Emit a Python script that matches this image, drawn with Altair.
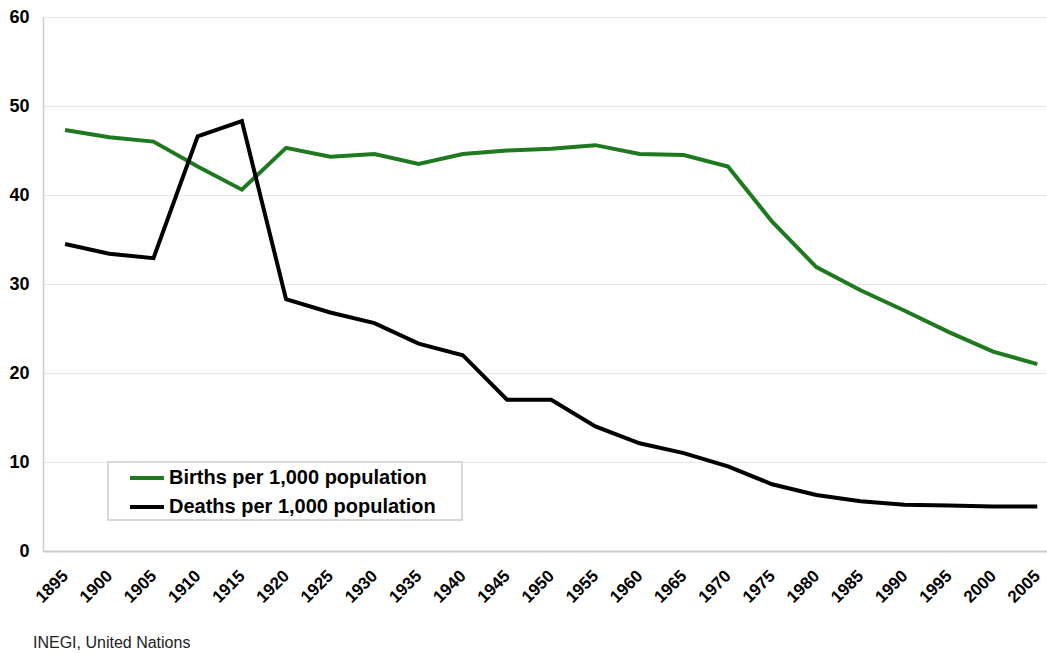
import altair as alt
import pandas as pd

years = [1895, 1900, 1905, 1910, 1915, 1920, 1925, 1930, 1935, 1940, 1945, 1950,
         1955, 1960, 1965, 1970, 1975, 1980, 1985, 1990, 1995, 2000, 2005]
births = [47.3, 46.5, 46.0, 43.2, 40.6, 45.3, 44.3, 44.6, 43.5, 44.6, 45.0, 45.2,
          45.6, 44.6, 44.5, 43.2, 37.0, 31.9, 29.3, 27.0, 24.6, 22.4, 21.0]
deaths = [34.5, 33.4, 32.9, 46.6, 48.3, 28.3, 26.8, 25.6, 23.3, 22.0, 17.0, 17.0,
          14.0, 12.1, 11.0, 9.5, 7.5, 6.3, 5.6, 5.2, 5.1, 5.0, 5.0]
series_names = ["Births per 1,000 population", "Deaths per 1,000 population"]
series_colors = ["#1f7a1f", "#000000"]
source_text = "INEGI, United Nations"

rows = []
for y, b, d in zip(years, births, deaths):
    rows.append({"year": y, "value": b, "series": series_names[0]})
    rows.append({"year": y, "value": d, "series": series_names[1]})
df = pd.DataFrame(rows)

W, H = 1004, 534
FONT = "Liberation Sans"

legend_box = alt.Chart(pd.DataFrame({"a": [0]})).mark_rect(
    fill="#ffffff", stroke="#cccccc", strokeWidth=1.5
).encode(x=alt.value(65), x2=alt.value(419), y=alt.value(445), y2=alt.value(503))

lines = alt.Chart(df).mark_line(strokeWidth=4, strokeJoin="miter").encode(
    x=alt.X("year:Q",
            scale=alt.Scale(domain=[1892.5, 2006.1], nice=False, zero=False),
            axis=alt.Axis(values=years, format="d", labelAngle=-45, labelAlign="right",
                          labelBaseline="middle", labelPadding=22, ticks=False,
                          grid=False, title=None, labelFontSize=17, labelFontWeight="bold",
                          labelColor="#000000", labelFont=FONT, domainColor="#cccccc",
                          domainWidth=2, labelOverlap=False)),
    y=alt.Y("value:Q",
            scale=alt.Scale(domain=[0, 60], nice=False),
            axis=alt.Axis(values=[0, 10, 20, 30, 40, 50, 60], ticks=False, grid=True,
                          gridColor="#e8e8e8", gridWidth=1, title=None,
                          labelFontSize=18, labelFontWeight="bold", labelColor="#000000",
                          labelFont=FONT, labelPadding=14, domainColor="#cccccc",
                          domainWidth=1.5)),
    color=alt.Color("series:N",
                    scale=alt.Scale(domain=series_names, range=series_colors),
                    legend=alt.Legend(orient="none", legendX=85, legendY=442, title=None,
                                      symbolType="stroke", symbolStrokeWidth=4,
                                      symbolSize=1156, labelFontSize=20,
                                      labelFontWeight="bold", labelFont=FONT,
                                      labelColor="#000000", padding=0, rowPadding=-2,
                                      labelOffset=3, labelLimit=400)),
)

source = alt.Chart(pd.DataFrame({"t": [source_text]})).mark_text(
    align="left", baseline="middle", fontSize=16, font=FONT, color="#222222"
).encode(text="t:N", x=alt.value(-10), y=alt.value(H + 92))

chart = alt.layer(legend_box, lines, source).properties(
    width=W, height=H,
    autosize=alt.AutoSizeParams(type="none"),
    padding={"left": 43, "top": 17, "right": 0, "bottom": 102},
).configure_view(stroke=None).configure(background="#ffffff")

chart.save("out.html", embed_options={"renderer": "svg", "actions": False})
